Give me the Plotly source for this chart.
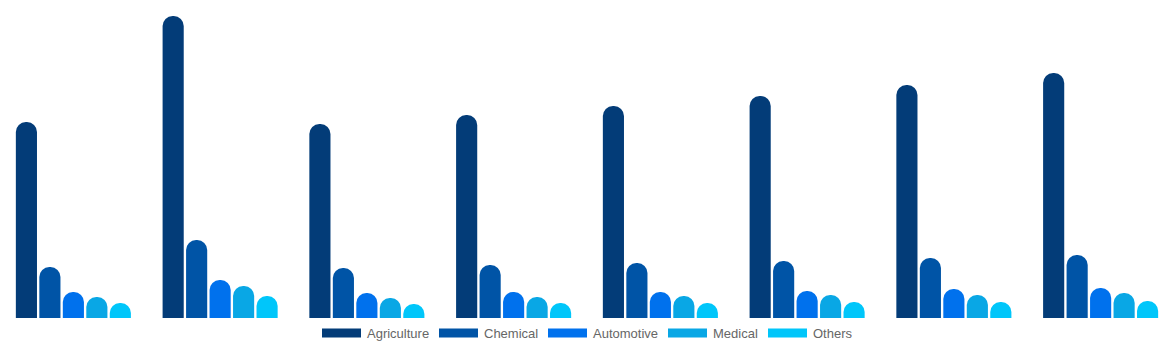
import plotly.graph_objects as go

# Market size by application segment (eight periods)
periods = ["P1", "P2", "P3", "P4", "P5", "P6", "P7", "P8"]
segments = ["Agriculture", "Chemical", "Automotive", "Medical", "Others"]
agriculture = [19.6, 30.2, 19.4, 20.3, 21.2, 22.2, 23.3, 24.5]
chemical = [5.1, 7.8, 5.0, 5.3, 5.5, 5.7, 6.0, 6.3]
automotive = [2.6, 3.8, 2.5, 2.6, 2.6, 2.7, 2.9, 3.0]
medical = [2.1, 3.2, 2.0, 2.1, 2.2, 2.3, 2.3, 2.5]
others = [1.5, 2.2, 1.4, 1.5, 1.5, 1.6, 1.6, 1.7]

series = [agriculture, chemical, automotive, medical, others]
colors = ["#033c78", "#0054a6", "#0071ed", "#09a7e5", "#00c6fa"]

W, H = 1174, 350
PLOT_H = 318
fig = go.Figure()
for name, vals, col in zip(segments, series, colors):
    fig.add_trace(go.Bar(
        x=periods, y=vals, name=name,
        marker=dict(color=col, cornerradius="50%", line=dict(width=0)),
        showlegend=False,
    ))


def py(px):
    """Convert a pixel row (from top of figure) to paper y."""
    return (H - px - (H - PLOT_H)) / PLOT_H


# Custom legend row: wide colour swatch followed by its label
legend_x = [322, 439, 548, 668, 768]
swatch_w = 39
for name, col, x0 in zip(segments, colors, legend_x):
    fig.add_shape(
        type="rect", xref="paper", yref="paper",
        x0=x0 / W, x1=(x0 + swatch_w) / W,
        y0=py(337.5), y1=py(328.5),
        fillcolor=col, line=dict(width=0),
    )
    fig.add_annotation(
        xref="paper", yref="paper",
        x=(x0 + swatch_w + 4) / W, y=py(333),
        xanchor="left", yanchor="middle", showarrow=False,
        text=name, font=dict(family="Liberation Sans, Arial", size=13, color="#666666"),
    )

fig.update_layout(
    width=W, height=H,
    margin=dict(l=0, r=0, t=0, b=H - PLOT_H),
    paper_bgcolor="white", plot_bgcolor="white",
    barmode="group", bargap=0.2, bargroupgap=0.1,
    xaxis=dict(visible=False),
    yaxis=dict(visible=False, range=[0, 31.8]),
)

fig.write_html("out.html")
